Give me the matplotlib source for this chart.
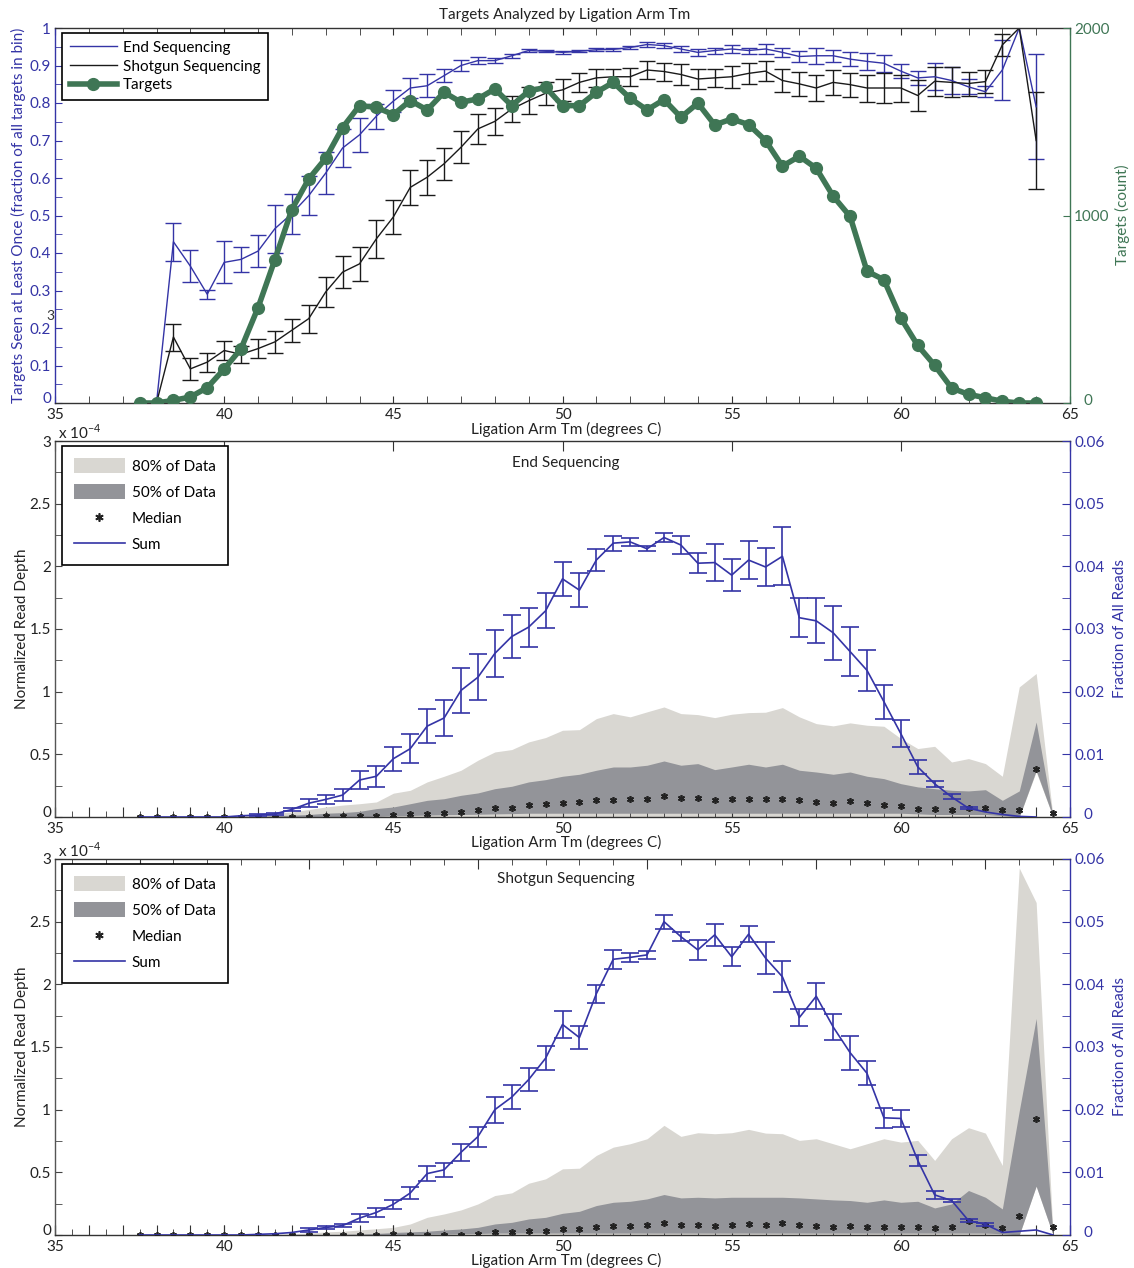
import numpy as np
import matplotlib
matplotlib.use("Agg")
import matplotlib.pyplot as plt
from matplotlib.lines import Line2D
from matplotlib.patches import Patch
from matplotlib.ticker import MultipleLocator, FixedLocator

plt.rcParams['font.family'] = ['Lato', 'DejaVu Sans']
plt.rcParams['font.size'] = 11

# ---------------- data ----------------
# bin centres (ligation arm Tm, degrees C)
tm_top = [37.5, 38, 38.5, 39, 39.5, 40, 40.5, 41, 41.5, 42, 42.5, 43, 43.5, 44, 44.5,
          45, 45.5, 46, 46.5, 47, 47.5, 48, 48.5, 49, 49.5, 50, 50.5, 51, 51.5, 52,
          52.5, 53, 53.5, 54, 54.5, 55, 55.5, 56, 56.5, 57, 57.5, 58, 58.5, 59, 59.5,
          60, 60.5, 61, 61.5, 62, 62.5, 63, 63.5, 64]
tm_depth = tm_top + [64.5]

nan = float('nan')

# fraction of targets seen at least once
end_seen = [nan, 0.0, 0.43, 0.365, 0.29, 0.375, 0.383, 0.405, 0.465, 0.505, 0.553, 0.613,
            0.68, 0.715, 0.765, 0.805, 0.84, 0.846, 0.873, 0.9, 0.913, 0.913, 0.926, 0.94,
            0.938, 0.935, 0.938, 0.942, 0.943, 0.948, 0.956, 0.953, 0.944, 0.935, 0.94,
            0.944, 0.94, 0.944, 0.935, 0.924, 0.926, 0.926, 0.917, 0.911, 0.906, 0.885,
            0.867, 0.87, 0.86, 0.843, 0.83, 0.888, 1.0, 0.79]
end_seen_err = [nan, nan, 0.05, 0.043, 0.012, 0.056, 0.034, 0.042, 0.064, 0.053, 0.052, 0.055,
                0.051, 0.045, 0.033, 0.03, 0.027, 0.031, 0.018, 0.015, 0.01, 0.006, 0.005,
                0.004, 0.003, 0.003, 0.003, 0.004, 0.005, 0.005, 0.006, 0.006, 0.008, 0.01,
                0.008, 0.01, 0.008, 0.013, 0.013, 0.015, 0.022, 0.016, 0.018, 0.022, 0.023,
                0.019, 0.018, 0.036, 0.035, 0.02, 0.015, 0.08, nan, 0.14]
shot_seen = [nan, 0.0, 0.176, 0.091, 0.109, 0.14, 0.13, 0.145, 0.163, 0.194, 0.225, 0.296,
             0.349, 0.371, 0.438, 0.496, 0.575, 0.602, 0.638, 0.682, 0.731, 0.751, 0.784,
             0.806, 0.826, 0.835, 0.855, 0.867, 0.87, 0.87, 0.888, 0.884, 0.876, 0.864,
             0.867, 0.87, 0.879, 0.885, 0.86, 0.851, 0.84, 0.855, 0.849, 0.84, 0.84, 0.84,
             0.82, 0.858, 0.855, 0.852, 0.857, 0.955, 1.0, 0.70]
shot_seen_err = [nan, nan, 0.036, 0.03, 0.025, 0.025, 0.022, 0.025, 0.03, 0.03, 0.037, 0.041,
                 0.042, 0.045, 0.05, 0.046, 0.046, 0.046, 0.043, 0.043, 0.039, 0.036, 0.034,
                 0.036, 0.03, 0.03, 0.026, 0.023, 0.022, 0.024, 0.025, 0.024, 0.027, 0.027,
                 0.025, 0.03, 0.028, 0.026, 0.03, 0.031, 0.034, 0.033, 0.032, 0.036, 0.04,
                 0.036, 0.041, 0.039, 0.04, 0.032, 0.03, 0.029, nan, 0.13]
target_count = [0, 0, 14, 32, 82, 181, 290, 508, 765, 1032, 1195, 1305, 1469, 1586, 1577,
                1538, 1613, 1563, 1657, 1604, 1622, 1675, 1586, 1663, 1684, 1586, 1586, 1657,
                1710, 1625, 1563, 1618, 1524, 1599, 1483, 1515, 1485, 1400, 1263, 1316, 1252,
                1103, 995, 703, 657, 453, 307, 201, 80, 46, 28, 9, 0, 0]

# End sequencing: normalized read depth (x 1e-4) percentiles and fraction of reads
end_p10 = [0] * 53 + [0.36, 0]
end_p25 = [0, 0, 0, 0, 0, 0, 0, 0, 0, 0, 0, 0, 0, 0, 0.005, 0.01, 0.012, 0.015, 0.018, 0.02,
           0.022, 0.025, 0.027, 0.03, 0.03, 0.03, 0.03, 0.03, 0.03, 0.03, 0.03, 0.03, 0.03,
           0.03, 0.03, 0.03, 0.03, 0.03, 0.03, 0.03, 0.03, 0.03, 0.03, 0.03, 0.03, 0.03,
           0.025, 0.02, 0.02, 0.02, 0.02, 0.01, 0.0, 0.37, 0]
end_p75 = [0, 0, 0, 0, 0, 0, 0.003, 0.005, 0.01, 0.015, 0.02, 0.03, 0.035, 0.045, 0.067,
           0.08, 0.106, 0.133, 0.146, 0.173, 0.192, 0.226, 0.245, 0.28, 0.298, 0.325, 0.341,
           0.373, 0.399, 0.399, 0.413, 0.447, 0.413, 0.426, 0.378, 0.399, 0.421, 0.399,
           0.421, 0.373, 0.359, 0.341, 0.359, 0.325, 0.306, 0.266, 0.24, 0.226, 0.213,
           0.208, 0.218, 0.133, 0.208, 0.758, 0]
end_p90 = [0, 0, 0, 0, 0.005, 0.01, 0.015, 0.02, 0.03, 0.04, 0.06, 0.08, 0.095, 0.106, 0.12,
           0.19, 0.213, 0.28, 0.325, 0.373, 0.453, 0.519, 0.538, 0.599, 0.634, 0.692, 0.697,
           0.785, 0.825, 0.799, 0.839, 0.878, 0.825, 0.817, 0.793, 0.82, 0.833, 0.836, 0.873,
           0.799, 0.745, 0.727, 0.751, 0.732, 0.724, 0.626, 0.546, 0.564, 0.439, 0.466,
           0.426, 0.325, 1.038, 1.145, 0]
end_median = [0, 0, 0, 0, 0, 0, 0, 0, 0.001, 0.002, 0.003, 0.004, 0.005, 0.007, 0.009,
              0.013, 0.021, 0.027, 0.032, 0.043, 0.059, 0.072, 0.075, 0.093, 0.101, 0.114,
              0.12, 0.133, 0.138, 0.146, 0.146, 0.168, 0.152, 0.152, 0.138, 0.146, 0.146,
              0.141, 0.146, 0.133, 0.12, 0.114, 0.125, 0.114, 0.098, 0.088, 0.061, 0.067,
              0.053, 0.072, 0.075, 0.059, 0.059, 0.386, 0.032]
end_sum = [0, 0, 0, 0, 0, 0, 0.0002, 0.0003, 0.0005, 0.0012, 0.0022, 0.0028, 0.0035, 0.0059,
           0.0065, 0.0093, 0.0109, 0.0145, 0.0158, 0.0202, 0.0223, 0.0261, 0.0288, 0.0303,
           0.0329, 0.038, 0.0362, 0.041, 0.0437, 0.0439, 0.0428, 0.0446, 0.0434, 0.0405,
           0.0406, 0.0386, 0.041, 0.0399, 0.0416, 0.0318, 0.0313, 0.0294, 0.0264, 0.0234,
           0.0184, 0.0133, 0.008, 0.0053, 0.0032, 0.0014, 0.0008, 0.0004, 0.0001, 0.0, nan]
end_sum_err = [nan, nan, nan, nan, nan, nan, nan, 0.0001, 0.0002, 0.0003, 0.0006, 0.0007,
               0.001, 0.0015, 0.0017, 0.0019, 0.0023, 0.0027, 0.0028, 0.0036, 0.0037, 0.0037,
               0.0035, 0.0031, 0.0028, 0.0027, 0.0027, 0.0017, 0.0012, 0.0007, 0.0004,
               0.0007, 0.0015, 0.0016, 0.003, 0.0025, 0.0031, 0.0031, 0.0046, 0.0031, 0.0036,
               0.0043, 0.0039, 0.0033, 0.0027, 0.0022, 0.0011, 0.0005, 0.0004, 0.0002, nan,
               nan, nan, nan, nan]

# Shotgun sequencing
shot_p10 = [0] * 53 + [0.39, 0]
shot_p25 = [0, 0, 0, 0, 0, 0, 0, 0, 0, 0, 0, 0, 0, 0, 0, 0.003, 0.005, 0.007, 0.008, 0.01,
            0.012, 0.015, 0.015, 0.015, 0.015, 0.015, 0.015, 0.015, 0.015, 0.015, 0.015,
            0.015, 0.015, 0.015, 0.015, 0.015, 0.015, 0.015, 0.015, 0.015, 0.015, 0.015,
            0.015, 0.015, 0.015, 0.015, 0.015, 0.015, 0.015, 0.015, 0.015, 0.01, 0.0, 0.39, 0]
shot_p75 = [0, 0, 0, 0, 0, 0, 0, 0, 0, 0, 0, 0, 0.005, 0.008, 0.012, 0.02, 0.025, 0.03,
            0.04, 0.048, 0.061, 0.088, 0.101, 0.128, 0.141, 0.173, 0.189, 0.235, 0.261,
            0.269, 0.288, 0.323, 0.296, 0.301, 0.296, 0.301, 0.301, 0.301, 0.301, 0.296,
            0.288, 0.28, 0.275, 0.261, 0.28, 0.261, 0.269, 0.216, 0.248, 0.355, 0.301,
            0.208, 0.99, 1.728, 0]
shot_p90 = [0, 0, 0, 0, 0, 0, 0, 0, 0.005, 0.01, 0.015, 0.025, 0.03, 0.04, 0.05, 0.061,
            0.088, 0.141, 0.168, 0.2, 0.248, 0.315, 0.336, 0.413, 0.448, 0.528, 0.533, 0.635,
            0.701, 0.728, 0.768, 0.875, 0.787, 0.816, 0.808, 0.816, 0.843, 0.813, 0.808,
            0.755, 0.768, 0.728, 0.688, 0.728, 0.768, 0.741, 0.755, 0.595, 0.768, 0.856,
            0.813, 0.555, 2.928, 2.653, 0]
shot_median = [0, 0, 0, 0, 0, 0, 0, 0, 0, 0, 0, 0, 0, 0, 0, 0.005, 0.0, 0.003, 0.003, 0.003,
               0.008, 0.021, 0.021, 0.035, 0.035, 0.048, 0.048, 0.067, 0.069, 0.075, 0.08,
               0.096, 0.083, 0.083, 0.075, 0.083, 0.085, 0.083, 0.093, 0.083, 0.075, 0.061,
               0.069, 0.061, 0.061, 0.061, 0.061, 0.053, 0.067, 0.109, 0.08, 0.053, 0.155,
               0.928, 0.061]
shot_sum = [0, 0, 0, 0, 0, 0, 0, 0.0001, 0.0002, 0.0004, 0.0008, 0.0012, 0.0015, 0.0027,
            0.0036, 0.0049, 0.0067, 0.0098, 0.0104, 0.0132, 0.0157, 0.02, 0.022, 0.0248,
            0.0282, 0.0336, 0.0315, 0.0385, 0.044, 0.0443, 0.0447, 0.05, 0.0476, 0.0455,
            0.0479, 0.0444, 0.048, 0.0442, 0.0412, 0.0347, 0.0381, 0.0332, 0.0291, 0.0258,
            0.0187, 0.0186, 0.0119, 0.0064, 0.0055, 0.0023, 0.0017, 0.0004, 0.0006, 0.0008, 0.0]
shot_sum_err = [nan, nan, nan, nan, nan, nan, nan, nan, nan, nan, 0.0003, 0.0003, 0.0003,
                0.0006, 0.0007, 0.0007, 0.0009, 0.0012, 0.0011, 0.0014, 0.0016, 0.0021,
                0.0019, 0.0019, 0.0019, 0.0022, 0.0018, 0.0014, 0.0015, 0.0007, 0.0006,
                0.0011, 0.0007, 0.0016, 0.0018, 0.0015, 0.0013, 0.0025, 0.0025, 0.0014,
                0.0021, 0.0021, 0.0027, 0.0019, 0.0016, 0.0013, 0.0009, 0.0007, 0.0003,
                0.0003, 0.0002, nan, nan, nan, nan]

# axis tick values (the zero labels are placed separately, clear of the x labels)
tm_major = [35, 40, 45, 50, 55, 60, 65]
frac_ticks = [0, 0.1, 0.2, 0.3, 0.4, 0.5, 0.6, 0.7, 0.8, 0.9, 1]
frac_labels = ['', '0.1', '0.2', '0.3', '0.4', '0.5', '0.6', '0.7', '0.8', '0.9', '1']
count_ticks = [0, 1000, 2000]
count_labels = ['', '1000', '2000']
depth_ticks = [0, 0.5, 1, 1.5, 2, 2.5, 3]
depth_labels = ['', '0.5', '1', '1.5', '2', '2.5', '3']
reads_ticks = [0, 0.01, 0.02, 0.03, 0.04, 0.05, 0.06]
reads_labels = ['', '0.01', '0.02', '0.03', '0.04', '0.05', '0.06']
shifted_top_ticks = [37.5, 42.5, 47.5, 52.5, 57.5, 62.5]

# ---------------- styling ----------------
BLUE = '#3434a6'
GREEN = '#3f7655'
LIGHT = '#d9d7d2'
DARK = '#939499'
STAR = '#222222'
FRAME = '#333333'
TXT = '#222222'

W, H = 1134, 1268
fig = plt.figure(figsize=(W / 100, H / 100), dpi=100)


def fx(p):
    return p / W


def fy(p):
    return 1 - p / H


def rect(top, bottom, left=55, right=1070):
    return [fx(left), fy(bottom), (right - left) / W, (bottom - top) / H]


def style_frame(ax, left_color=FRAME, right_color=FRAME):
    for s in ('top', 'bottom'):
        ax.spines[s].set_color(FRAME)
    ax.spines['left'].set_color(left_color)
    ax.spines['right'].set_color(right_color)
    for s in ax.spines.values():
        s.set_linewidth(1.0)


def hide_spines(ax):
    for s in ax.spines.values():
        s.set_visible(False)


def zero_labels(bottom, left_color, right_color):
    fig.text(fx(51), fy(bottom - 4), '0', ha='right', va='center', fontsize=11,
             color=left_color)
    fig.text(fx(1084), fy(bottom - 2), '0', ha='left', va='center', fontsize=11,
             color=right_color)


# ================= panel 1: targets by Tm =================
ax1 = fig.add_axes(rect(28, 403))
ax1.set_xlim(35, 65)
ax1.set_ylim(0, 1)
style_frame(ax1, left_color=BLUE, right_color=GREEN)
ax1.set_yticks(frac_ticks, frac_labels)
ax1.yaxis.set_minor_locator(MultipleLocator(0.05))
ax1.tick_params(axis='y', which='both', direction='in', length=5, colors=BLUE,
                right=True, labelright=False, pad=3)
ax1.set_xticks(tm_major)
ax1.xaxis.set_minor_locator(MultipleLocator(1))
ax1.tick_params(axis='x', which='both', direction='in', length=5, top=True,
                colors=FRAME, pad=3.5)
ax1.tick_params(axis='x', labelcolor=TXT)

eb_kw = dict(lw=1.0, elinewidth=1.0, capsize=6, capthick=1.0)
ax1.errorbar(tm_top, end_seen, yerr=end_seen_err, color=BLUE, **eb_kw)
ax1.errorbar(tm_top, shot_seen, yerr=shot_seen_err, color='#1a1a1a', **eb_kw)

ax1b = ax1.twinx()
ax1b.set_ylim(0, 2000)
hide_spines(ax1b)
ax1b.set_yticks(count_ticks, count_labels)
ax1b.tick_params(axis='y', direction='in', length=5, colors=GREEN, pad=3)
ax1b.plot(tm_top, target_count, color=GREEN, lw=4, marker='o', ms=8.5, zorder=5)
zero_labels(403, BLUE, GREEN)

h_top = [Line2D([], [], color=BLUE, lw=1),
         Line2D([], [], color='#1a1a1a', lw=1),
         Line2D([], [], color=GREEN, lw=4, marker='o', ms=8.5)]
leg = ax1b.legend(h_top, ['End Sequencing', 'Shotgun Sequencing', 'Targets'],
                  loc='upper left', bbox_to_anchor=(fx(62), fy(33)),
                  bbox_transform=fig.transFigure, borderaxespad=0, fancybox=False,
                  framealpha=1, edgecolor='black', fontsize=11, handlelength=3.1,
                  labelspacing=0.32, borderpad=0.5, handletextpad=0.4)
leg.get_frame().set_linewidth(1.2)

fig.text(fx(565), fy(15), 'Targets Analyzed by Ligation Arm Tm', ha='center', va='center',
         fontsize=11, color=TXT)
fig.text(fx(566), fy(429), 'Ligation Arm Tm (degrees C)', ha='center', va='center',
         fontsize=11, color=TXT)
fig.text(fx(18), fy(215), 'Targets Seen at Least Once (fraction of all targets in bin)',
         rotation=90, ha='center', va='center', fontsize=11, color=BLUE)
fig.text(fx(1122), fy(215), 'Targets (count)', rotation=90, ha='center', va='center',
         fontsize=11, color=GREEN)
fig.text(fx(50), fy(316), '3', ha='center', va='center', fontsize=10, color='#333333')


# ================= panels 2 & 3: read depth =================
def depth_panel(top, bottom, p10, p25, p75, p90, med, tot, tot_err, title, title_y,
                xlabel_y, leg_top, top_edge_shifted):
    ax = fig.add_axes(rect(top, bottom))
    ax.set_xlim(35, 65)
    ax.set_ylim(0, 3)
    style_frame(ax, left_color='#555555', right_color=BLUE)
    ax.fill_between(tm_depth, p10, p90, color=LIGHT, lw=0, zorder=1)
    ax.fill_between(tm_depth, p25, p75, color=DARK, lw=0, zorder=2)
    ax.plot(tm_depth, med, ls='none', marker=(6, 2, 0), ms=5, mew=1.2, color=STAR,
            zorder=3)
    ax.set_yticks(depth_ticks, depth_labels)
    ax.yaxis.set_minor_locator(MultipleLocator(0.25))
    ax.tick_params(axis='y', which='both', direction='in', length=5, colors='#444444',
                   labelcolor=TXT, pad=3)
    ax.set_xticks(tm_major)
    ax.xaxis.set_minor_locator(MultipleLocator(0.5))
    ax.tick_params(axis='x', which='major', direction='in', length=7,
                   top=not top_edge_shifted, colors='#333333', labelcolor=TXT, pad=3.5)
    ax.tick_params(axis='x', which='minor', direction='in', length=4, top=False,
                   colors='#333333')
    # integer-degree ticks along the bottom edge
    sec_b = ax.secondary_xaxis('bottom')
    sec_b.spines['bottom'].set_visible(False)
    sec_b.xaxis.set_major_locator(MultipleLocator(1))
    sec_b.tick_params(axis='x', direction='in', length=7, labelbottom=False,
                      colors='#333333')
    if top_edge_shifted:
        sec_t = ax.secondary_xaxis('top')
        sec_t.spines['top'].set_visible(False)
        sec_t.set_xticks(shifted_top_ticks)
        sec_t.xaxis.set_minor_locator(FixedLocator([v + d for v in shifted_top_ticks
                                                    for d in (-2, -1, 1, 2)]))
        sec_t.tick_params(axis='x', which='major', direction='in', length=7,
                          labeltop=False, colors='#333333')
        sec_t.tick_params(axis='x', which='minor', direction='in', length=4,
                          colors='#333333')

    axr = ax.twinx()
    axr.set_ylim(0, 0.06)
    hide_spines(axr)
    axr.set_yticks(reads_ticks, reads_labels)
    axr.yaxis.set_minor_locator(MultipleLocator(0.005))
    axr.tick_params(axis='y', which='both', direction='in', length=6, colors=BLUE, pad=3)
    axr.errorbar(tm_depth, tot, yerr=tot_err, color=BLUE, lw=1.2, elinewidth=1.2,
                 capsize=6.5, capthick=1.2, zorder=4)
    zero_labels(bottom, TXT, BLUE)

    handles = [Patch(facecolor=LIGHT, edgecolor='none'),
               Patch(facecolor=DARK, edgecolor='none'),
               Line2D([], [], ls='none', marker=(6, 2, 0), ms=6, mew=1.2, color=STAR),
               Line2D([], [], color=BLUE, lw=1.2)]
    lg = axr.legend(handles, ['80% of Data', '50% of Data', 'Median', 'Sum'],
                    loc='upper left', bbox_to_anchor=(fx(62), fy(leg_top)),
                    bbox_transform=fig.transFigure, borderaxespad=0, fancybox=False,
                    framealpha=1, edgecolor='black', fontsize=11, handlelength=3.3,
                    handleheight=1.1, labelspacing=0.7, borderpad=0.8,
                    handletextpad=0.45)
    lg.get_frame().set_linewidth(1.2)

    fig.text(fx(566), fy(title_y), title, ha='center', va='center', fontsize=11,
             color=TXT)
    fig.text(fx(566), fy(xlabel_y), 'Ligation Arm Tm (degrees C)', ha='center',
             va='center', fontsize=11, color=TXT)
    fig.text(fx(58), fy(top - 9), r'x 10$^{\mathregular{-4}}$', ha='left', va='center',
             fontsize=11, color=TXT)
    ymid = (top + bottom) / 2
    fig.text(fx(22), fy(ymid), 'Normalized Read Depth', rotation=90, ha='center',
             va='center', fontsize=11, color=TXT)
    fig.text(fx(1120), fy(ymid), 'Fraction of All Reads', rotation=90, ha='center',
             va='center', fontsize=11, color=BLUE)
    return ax


depth_panel(441, 817, end_p10, end_p25, end_p75, end_p90, end_median, end_sum,
            end_sum_err, 'End Sequencing', 463, 842, 446, False)
depth_panel(859, 1235, shot_p10, shot_p25, shot_p75, shot_p90, shot_median, shot_sum,
            shot_sum_err, 'Shotgun Sequencing', 879, 1260, 864, True)

fig.savefig('out.png', dpi=100)
